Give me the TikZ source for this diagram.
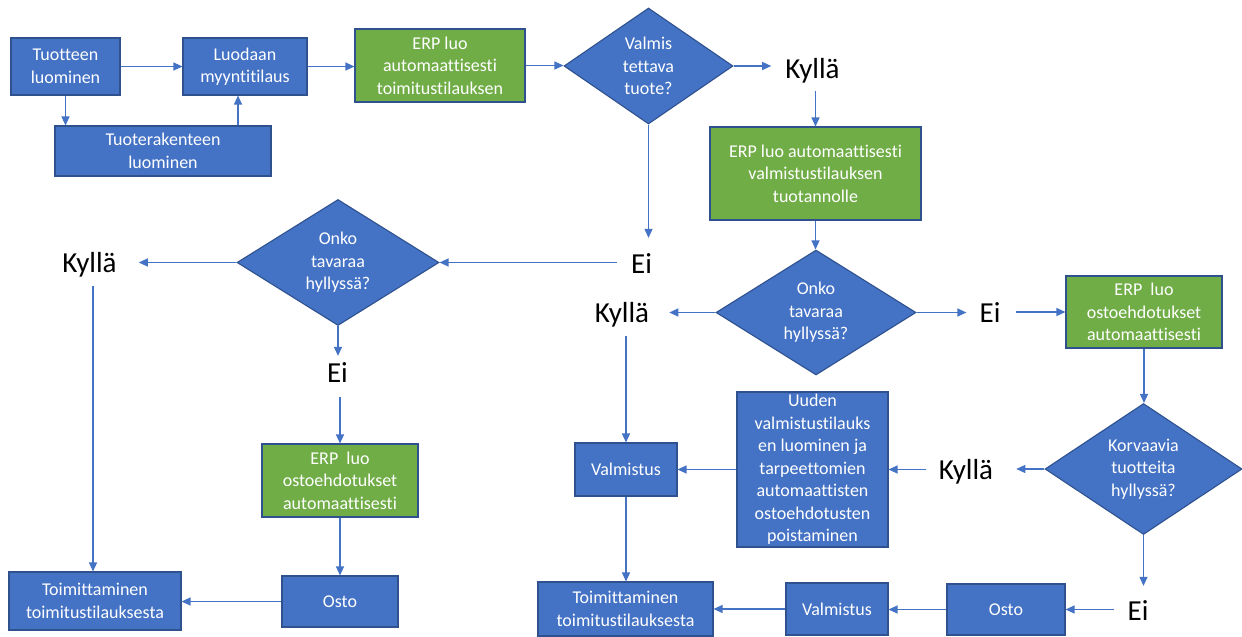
\documentclass[tikz,border=0pt]{standalone}
\usepackage{fontspec}
\setmainfont[Ligatures=NoCommon]{Carlito}
\usetikzlibrary{shapes.geometric,arrows.meta}
\definecolor{boxblue}{HTML}{4472C4}
\definecolor{boxgreen}{HTML}{70AD47}
\definecolor{edgeblue}{HTML}{2F528F}
\definecolor{arrowblue}{HTML}{4472C4}
\begin{document}
\begin{tikzpicture}[x=1pt,y=-1pt,
 box/.style={draw=edgeblue, line width=1.1pt, text=white, align=center, inner sep=0pt, font=\fontsize{18}{22.5}\selectfont},
 bluebox/.style={box, fill=boxblue},
 greenbox/.style={box, fill=boxgreen},
 decision/.style={box, fill=boxblue, diamond},
 wh/.style 2 args={minimum width=#1pt, minimum height=#2pt},
 lbl/.style={inner sep=0pt, anchor=base, font=\fontsize{29}{34}\selectfont, text=black},
 arr/.style={draw=arrowblue, line width=1.2pt, -{Triangle[length=9pt,width=8pt]}}]

\fill[white] (0,0) rectangle (1242,637);
\useasboundingbox (0,0) rectangle (1242,637);

% top row
\node[bluebox, wh={109}{57}] (A) at (65.5,66.5) {Tuotteen\\luominen};
\node[bluebox, wh={124}{57}] (B) at (245,66.5) {Luodaan\\myyntitilaus};
\node[bluebox, wh={216}{50}] (C) at (163,151) {Tuoterakenteen\\luominen};
\node[greenbox, wh={170}{73}] (D) at (440,65.5) {ERP luo\\automaattisesti\\toimitustilauksen};
\node[decision, wh={169}{116}] (E) at (648.5,66) {Valmis\\tettava\\tuote?};
\node[lbl] (k1) at (812.5,78) {Kyllä};

% right branch
\node[greenbox, wh={211}{93}] (F) at (815.5,173.5) {ERP luo automaattisesti\\valmistustilauksen\\tuotannolle};
\node[decision, wh={200}{119}] (G) at (816,312.5) {Onko\\tavaraa\\hyllyssä?};
\node[lbl] (k2) at (622,322) {Kyllä};
\node[lbl] (ei2) at (990,322) {Ei};
\node[greenbox, wh={156}{72}] (H) at (1144,312) {ERP\ \ luo\\ostoehdotukset\\automaattisesti};
\node[decision, wh={197}{118}] (I) at (1143.5,469) {Korvaavia\\tuotteita\\hyllyssä?};
\node[lbl] (k3) at (966,479) {Kyllä};
\node[bluebox, wh={151}{155}] (J) at (812.5,469.5) {Uuden\\valmistustilauks\\en luominen ja\\tarpeettomien\\automaattisten\\ostoehdotusten\\poistaminen};
\node[bluebox, wh={102}{53}] (K) at (626,469.5) {Valmistus};
\node[bluebox, wh={175}{54}] (L) at (625.5,609) {Toimittaminen\\toimitustilauksesta};
\node[bluebox, wh={102}{52}] (M) at (837,609) {Valmistus};
\node[bluebox, wh={118}{51}] (N) at (1006,609.5) {Osto};
\node[lbl] (ei3) at (1138,620) {Ei};

% left branch
\node[lbl] (ei1) at (641.5,273) {Ei};
\node[decision, wh={202}{126}] (P) at (338,262.5) {Onko\\tavaraa\\hyllyssä?};
\node[lbl] (k4) at (89.5,272) {Kyllä};
\node[lbl] (ei4) at (337.5,382) {Ei};
\node[greenbox, wh={156}{73}] (R) at (340,480.5) {ERP\ \ luo\\ostoehdotukset\\automaattisesti};
\node[bluebox, wh={116}{51}] (S) at (340,601.5) {Osto};
\node[bluebox, wh={172}{58}] (Q) at (95,601) {Toimittaminen\\toimitustilauksesta};

% connectors
\draw[arr] (A.east) -- (B.west);
\draw[arr] (A.south) -- (A.south |- C.north);
\draw[arr] ([xshift=-7pt]B.south |- C.north) -- ([xshift=-7pt]B.south);
\draw[arr] (B.east) -- (B.east -| D.west);
\draw[arr] (D.east) -- (D.east -| E.west);
\draw[arr, shorten >=14pt] (E.east) -- (E.east -| k1.west);
\draw[arr, shorten <=8pt] (F.north |- k1.south) -- (F.north);
\draw[arr] (F.south) -- (F.south |- G.north);
\draw[arr, shorten >=20pt] (G.west) -- (G.west -| k2.east);
\draw[arr, shorten <=9pt] (K.north |- k2.south) -- (K.north);
\draw[arr, shorten >=13pt] (G.east) -- (G.east -| ei2.west);
\draw[arr, shorten <=15pt] (H.west -| ei2.east) -- (H.west);
\draw[arr] (H.south) -- (H.south |- I.north);
\draw[arr, shorten >=23pt] (I.west) -- (I.west -| k3.east);
\draw[arr, shorten <=13pt] (J.east -| k3.west) -- (J.east);
\draw[arr] (J.west) -- (J.west -| K.east);
\draw[arr] (K.south) -- (K.south |- L.north);
\draw[arr, shorten >=14pt] (I.south) -- (I.south |- ei3.north);
\draw[arr, shorten <=13pt] (N.east -| ei3.west) -- (N.east);
\draw[arr] (N.west) -- (N.west -| M.east);
\draw[arr] (M.west) -- (M.west -| L.east);
\draw[arr, shorten >=15pt] (E.south) -- (E.south |- ei1.north);
\draw[arr, shorten <=14pt] (P.east -| ei1.west) -- (P.east);
\draw[arr, shorten >=22pt] (P.west) -- (P.west -| k4.east);
\draw[arr, shorten <=9pt] ([xshift=-2pt]Q.north |- k4.south) -- ([xshift=-2pt]Q.north);
\draw[arr, shorten >=6pt] (P.south) -- (P.south |- ei4.north);
\draw[arr, shorten <=15pt] (R.north |- ei4.south) -- (R.north);
\draw[arr] (R.south) -- (R.south |- S.north);
\draw[arr] (S.west) -- (S.west -| Q.east);
\end{tikzpicture}
\end{document}
